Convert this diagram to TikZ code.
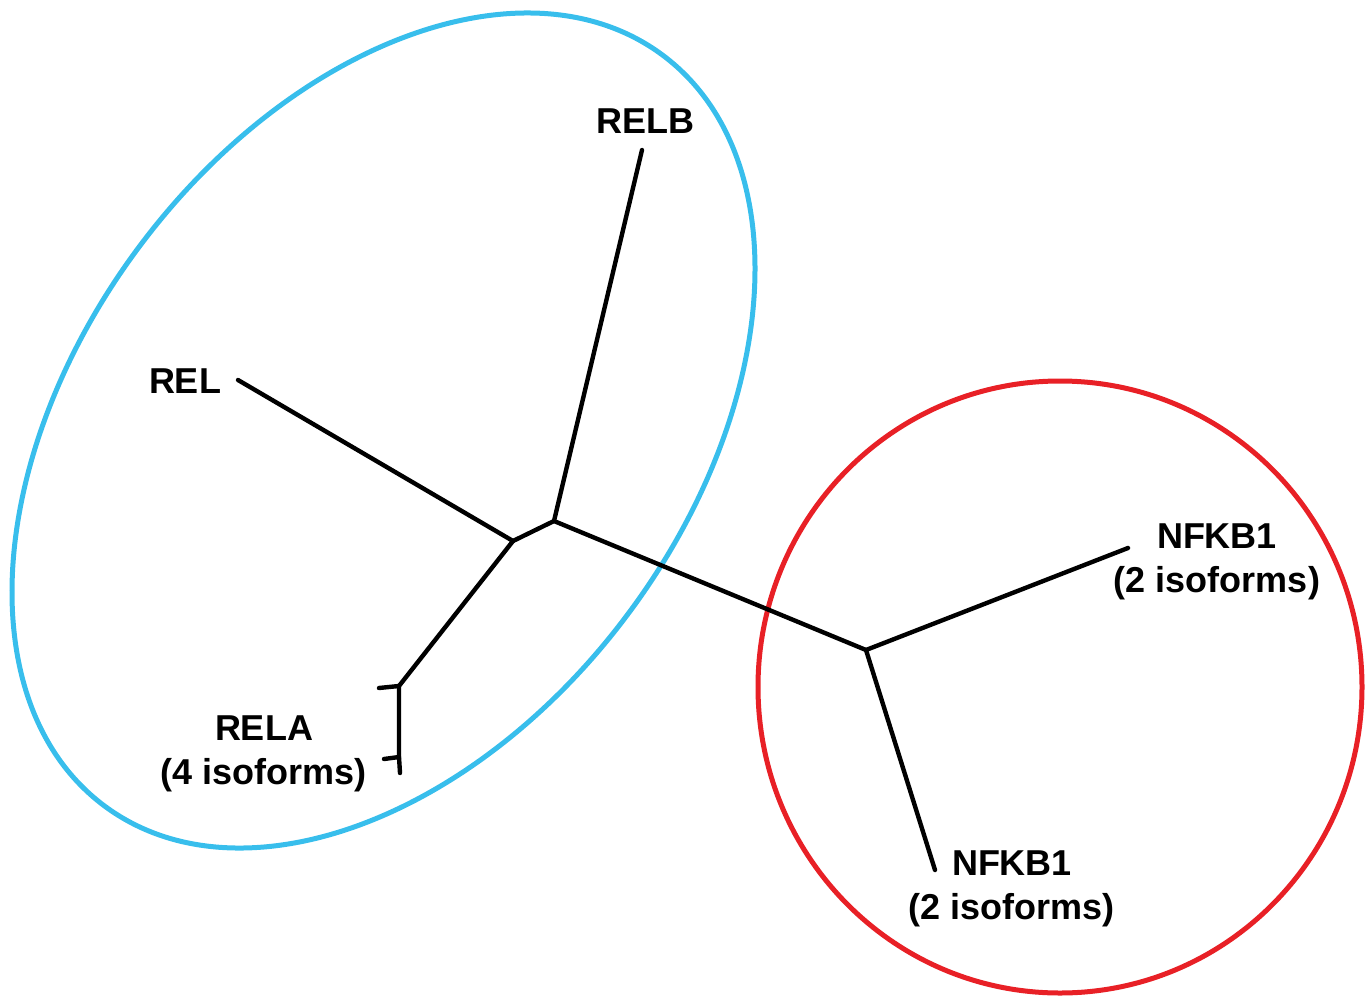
\documentclass[tikz,border=0pt]{standalone}
\usepackage{fontspec}
\setmainfont{Liberation Sans}
\definecolor{cblue}{RGB}{56,190,236}
\definecolor{cred}{RGB}{232,32,38}
\begin{document}
\begin{tikzpicture}[x=1pt,y=-1pt,
  branch/.style={line width=4.4pt,line cap=round,line join=round,black},
  lbl/.style={font=\fontsize{36}{44}\selectfont\bfseries,align=center,inner sep=0pt},
  group/.style={line width=5pt}]
\useasboundingbox (0,0) rectangle (1368,996);
% groups
\draw[group,cblue,rotate around={53.4:(383.5,430.5)}] (383.5,430.5) ellipse [x radius=467.8, y radius=305.7];
\draw[group,cred] (1060,687) ellipse [x radius=302, y radius=306];
% tree coordinates
\coordinate (relbtip) at (642,150);
\coordinate (reltip) at (238,380);
\coordinate (ja) at (554,521);
\coordinate (jb) at (513,541);
\coordinate (jr) at (399,686);
\coordinate (rtop) at (379,688);
\coordinate (rmid) at (399,757);
\coordinate (rmidl) at (384,759);
\coordinate (rbot) at (400,773);
\coordinate (jn) at (866,650);
\coordinate (ntip1) at (1128,548);
\coordinate (ntip2) at (935,870);
% branches
\draw[branch] (relbtip) -- (ja);
\draw[branch] (reltip) -- (jb);
\draw[branch] (jb) -- (ja);
\draw[branch] (jb) -- (jr);
\draw[branch] (rtop) -- (jr) -- (rmid) -- (rbot);
\draw[branch] (rmidl) -- (rmid);
\draw[branch] (ja) -- (jn);
\draw[branch] (jn) -- (ntip1);
\draw[branch] (jn) -- (ntip2);
% labels
\node[lbl] (relb) at (645,121) {RELB};
\node[lbl] (rel) at (185,381) {REL};
\node[lbl] (rela) at (264,754) {RELA\\(4 isoforms)};
\node[lbl] (nfkba) at (1217,562) {NFKB1\\(2 isoforms)};
\node[lbl] (nfkbb) at (1012,889) {NFKB1\\(2 isoforms)};
\end{tikzpicture}
\end{document}
